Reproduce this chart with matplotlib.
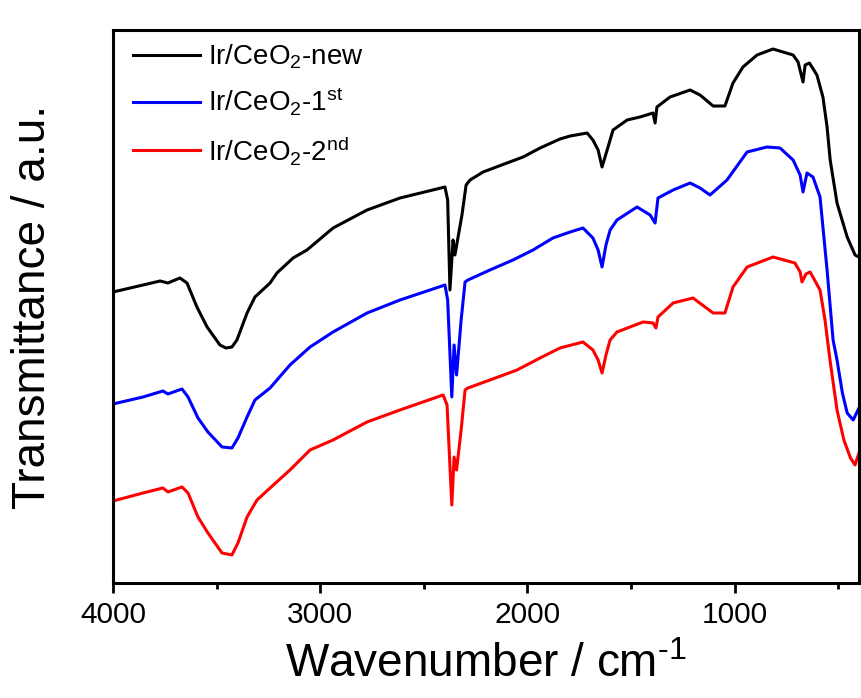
import matplotlib
matplotlib.use("Agg")
import matplotlib.pyplot as plt
from matplotlib.ticker import MultipleLocator

plt.rcParams['font.family'] = ['Liberation Sans', 'DejaVu Sans']
plt.rcParams['mathtext.fontset'] = 'custom'
plt.rcParams['mathtext.rm'] = 'Liberation Sans'
plt.rcParams['mathtext.it'] = 'Liberation Sans:italic'
plt.rcParams['mathtext.bf'] = 'Liberation Sans:bold'
plt.rcParams['mathtext.default'] = 'regular'

# ---- data (wavenumber in cm-1, transmittance in a.u.) ----
new_wn = [4000, 3855, 3773, 3735, 3677, 3643, 3595, 3546, 3484, 3455, 3426, 3402, 3353, 3315,
          3242, 3209, 3131, 3064, 2938, 2774, 2615, 2398, 2385, 2374, 2359, 2350, 2316, 2296,
          2277, 2214, 2099, 2021, 1939, 1843, 1794, 1712, 1684, 1659, 1640, 1611, 1587, 1519,
          1457, 1394, 1384, 1375, 1312, 1215, 1167, 1104, 1047, 1008, 960, 892, 815, 718, 694,
          670, 660, 639, 603, 574, 554, 539, 506, 457, 419, 400]
new_t = [291, 298, 302, 300, 305, 300, 276, 256, 238, 235, 236, 243, 270, 286,
         300, 310, 325, 333, 355, 373, 385, 396, 383, 293, 343, 328, 368, 398,
         403, 411, 420, 426, 435, 444, 447, 450, 443, 433, 416, 436, 453, 463,
         466, 470, 460, 476, 486, 493, 488, 477, 477, 500, 516, 528, 534, 528, 521,
         501, 518, 520, 508, 486, 456, 423, 380, 346, 328, 326]

first_wn = [4000, 3855, 3759, 3735, 3667, 3638, 3590, 3542, 3474, 3426, 3397, 3353, 3315, 3242,
            3146, 3049, 2938, 2774, 2615, 2398, 2385, 2365, 2354, 2342, 2320, 2301, 2287, 2181,
            2070, 1973, 1877, 1794, 1732, 1684, 1659, 1640, 1621, 1601, 1568, 1471, 1408, 1384,
            1370, 1297, 1215, 1167, 1119, 1037, 940, 844, 781, 718, 684, 670, 651, 622, 588,
            554, 525, 506, 480, 457, 428, 400]
first_t = [179, 186, 192, 189, 194, 186, 165, 151, 136, 135, 145, 166, 183, 195,
           218, 236, 251, 270, 283, 298, 283, 186, 238, 208, 263, 301, 303, 313,
           323, 333, 345, 351, 355, 345, 333, 316, 338, 353, 363, 376, 368, 360,
           385, 393, 400, 395, 388, 403, 431, 436, 435, 423, 408, 391, 410, 406, 386,
           313, 243, 223, 190, 170, 163, 175]

second_wn = [4000, 3855, 3759, 3735, 3667, 3638, 3590, 3542, 3474, 3426, 3397, 3353, 3305, 3242,
             3146, 3049, 2938, 2774, 2615, 2407, 2388, 2365, 2354, 2342, 2320, 2301, 2287, 2181,
             2050, 1939, 1843, 1732, 1684, 1659, 1640, 1621, 1601, 1568, 1442, 1394, 1380, 1370,
             1297, 1201, 1104, 1047, 1008, 940, 815, 709, 684, 675, 656, 636, 588, 564, 540,
             506, 473, 441, 419, 400]
second_t = [82, 90, 95, 91, 96, 90, 66, 50, 30, 28, 40, 66, 83, 95,
            113, 133, 143, 161, 173, 188, 178, 78, 126, 113, 153, 193, 195, 203,
            213, 225, 235, 241, 233, 223, 210, 228, 243, 251, 261, 260, 255, 266,
            280, 285, 270, 270, 296, 316, 326, 320, 311, 301, 309, 311, 293, 263, 223,
            173, 143, 125, 118, 130]

labels = [r'Ir/CeO$_{2}$-new', r'Ir/CeO$_{2}$-1$^{st}$', r'Ir/CeO$_{2}$-2$^{nd}$']
colors = ['black', '#0000ff', '#ff0000']
x_ticks = [4000, 3000, 2000, 1000]

fig = plt.figure(figsize=(8.62, 6.98), dpi=100)
ax = fig.add_axes([0.1311, 0.1648, 0.8654, 0.7922])

for wn, t, lab, c in zip([new_wn, first_wn, second_wn], [new_t, first_t, second_t], labels, colors):
    ax.plot(wn, t, color=c, lw=2.2, label=lab, solid_joinstyle='round')

ax.set_xlim(4000, 400)
ax.set_ylim(0, 553)
ax.set_xticks(x_ticks)
ax.xaxis.set_minor_locator(MultipleLocator(500))
ax.set_yticks([])
ax.tick_params(axis='x', which='major', direction='out', length=7, width=2, labelsize=21.5, pad=6)
ax.tick_params(axis='x', which='minor', direction='out', length=4, width=2)
for s in ax.spines.values():
    s.set_linewidth(2.2)

ax.set_xlabel('Wavenumber / cm$^{\u2010 1}$', fontsize=33, labelpad=10)
ax.set_ylabel('Transmittance / a.u.', fontsize=33, labelpad=42)

leg = ax.legend(loc='upper left', frameon=False, fontsize=20, handlelength=2.4,
                handletextpad=0.3, labelspacing=0.55, borderaxespad=0.0,
                bbox_to_anchor=(0.012, 0.998))

fig.savefig('out.png', dpi=100)
